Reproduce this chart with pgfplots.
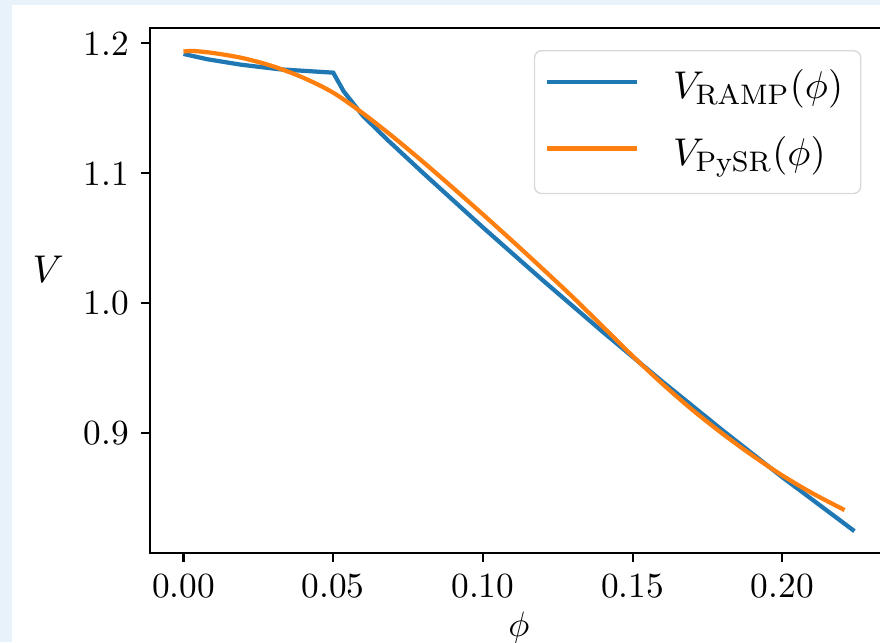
\documentclass[border=0pt]{standalone}
\usepackage{pgfplots}
\pgfplotsset{compat=1.18}
\definecolor{mplblue}{HTML}{1F77B4}
\definecolor{mplorange}{HTML}{FF7F0E}
\definecolor{pageblue}{RGB}{232,242,250}
\begin{document}
\begin{tikzpicture}
\useasboundingbox (0pt,0pt) rectangle (249.04pt,181.69pt);
\clip (0pt,0pt) rectangle (249.04pt,181.69pt);
\fill[pageblue] (0pt,0pt) rectangle (249.04pt,181.69pt);
\fill[white] (3.40pt,0pt) rectangle (249.04pt,180.27pt);
\begin{axis}[
  at={(42.45pt,25.27pt)}, anchor=south west,
  scale only axis,
  width=208.85pt, height=148.4pt,
  xmin=-0.0112, xmax=0.2353,
  ymin=0.8082, ymax=1.2115,
  xtick={0,0.05,0.10,0.15,0.20},
  xticklabels={0.00,0.05,0.10,0.15,0.20},
  ytick={0.9,1.0,1.1,1.2},
  yticklabels={0.9,1.0,1.1,1.2},
  tick align=outside, tick pos=left,
  major tick length=2.5pt,
  axis line style={line width=0.6pt},
  every tick/.style={black, line width=0.6pt},
  xlabel={$\phi$},
  ylabel={\fontsize{11}{13}\selectfont$V$},
  x label style={at={(axis description cs:0.5,-0.1436)}, anchor=center},
  y label style={at={(axis description cs:-0.138,0.541)}, rotate=-90, anchor=center},
  legend cell align=left,
  legend image code/.code={\draw[#1] (0pt,2pt) -- (25.5pt,2pt);},
  legend style={at={(axis description cs:0.964,0.9586)}, anchor=north east,
    draw=black!15, rounded corners=2pt, fill=white,
    inner xsep=3pt, inner ysep=3pt, row sep=3.4pt,
    font=\fontsize{11}{13}\selectfont,
    /tikz/every odd column/.append style={column sep=7.5pt},
    nodes={inner sep=2pt, text depth=0.3em, text height=0.85em}},
]
\addplot[mplblue, line width=1.2pt] coordinates {
(0,1.1918) (0.008,1.1877) (0.019,1.1836) (0.032,1.1800) (0.050,1.1774)
(0.0535,1.1630) (0.060,1.1440) (0.068,1.1260) (0.080,1.1003) (0.100,1.0584)
(0.120,1.0177) (0.140,0.9781) (0.160,0.9397) (0.180,0.9024) (0.200,0.8663)
(0.2241,0.8248)
};
\addlegendentry{$V_{\mathrm{RAMP}}(\phi)$}
\addplot[mplorange, line width=1.2pt, smooth] coordinates {
(0,1.1936) (0.003,1.1941) (0.010,1.1925) (0.020,1.1885) (0.030,1.1822)
(0.040,1.1735) (0.050,1.1620) (0.060,1.1460) (0.070,1.1280) (0.080,1.1088)
(0.090,1.0888) (0.100,1.0684) (0.110,1.0476) (0.120,1.0264) (0.130,1.0048)
(0.140,0.9822) (0.150,0.9595) (0.160,0.9380) (0.170,0.9180) (0.180,0.8998)
(0.190,0.8830) (0.200,0.8676) (0.210,0.8540) (0.2208,0.8410)
};
\addlegendentry{$V_{\mathrm{PySR}}(\phi)$}
\end{axis}
\end{tikzpicture}
\end{document}
